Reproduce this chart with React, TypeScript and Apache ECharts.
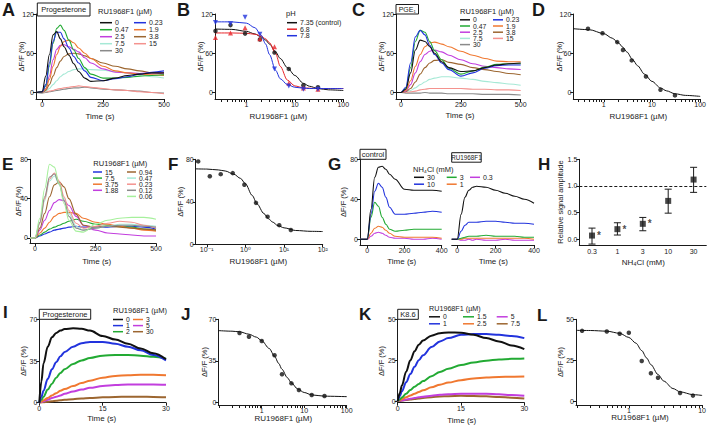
import React, { useEffect, useRef } from 'react';
import * as echarts from 'echarts';

const FONT = '"Liberation Sans", Arial, "DejaVu Sans", sans-serif';
const INK = '#1a1a1a';

// ===== A: progesterone traces =====
const aTime = [-25, 0, 15, 30, 45, 60, 75, 90, 110, 130, 150, 175, 200, 250, 300, 350, 400, 450, 500];
const aLabels = ['0', '0.23', '0.47', '1.9', '2.5', '3.8', '7.5', '15', '30'];
const aTraces = [
  [0, 1, 25, 58, 88, 93, 82, 70, 57, 44, 32, 22, 17, 18, 22, 26, 28, 30, 30],
  [0, 1, 12, 45, 78, 92, 92, 82, 68, 55, 45, 33, 23, 18, 21, 24, 28, 31, 33],
  [0, 1, 10, 40, 75, 98, 103, 95, 80, 65, 52, 38, 28, 22, 22, 23, 25, 26, 27],
  [0, 1, 5, 20, 40, 58, 70, 78, 80, 76, 68, 60, 52, 40, 33, 30, 28, 27, 26],
  [0, 1, 6, 25, 50, 66, 72, 73, 70, 66, 62, 53, 45, 36, 31, 30, 29, 30, 30],
  [0, 0, 3, 12, 25, 38, 48, 55, 59, 60, 59, 56, 52, 45, 40, 36, 33, 30, 28],
  [0, 0, 2, 6, 12, 18, 24, 28, 32, 35, 36, 36, 35, 34, 32, 30, 27, 24, 22],
  [0, 0, 1, 2, 3, 5, 6, 7, 8, 9, 10, 9, 8, 6, 4, 3, 1, 0, -2],
  [0, -1, 0, 1, 2, 3, 4, 5, 6, 7, 7, 8, 7, 5, 4, 3, 2, 0, -1],
];

// ===== B: pH dose-response =====
const bConc = [0.23, 0.47, 0.94, 1.9, 3.8, 7.5, 15, 30];
const bPh735 = [94, 103, 90, 81, 61, 36, 11, 8];
const bPh68 = [84, 91, 99, 82, 70, 14, 7, 5];
const bPh78 = [107, 105, 115, 89, 36, 10, 5, 5];
const bFitX = [0.225, 0.5, 1, 1.5, 2, 2.5, 3, 4, 5, 7, 10, 15, 20, 30, 50, 100];
const bFit735 = [97, 96.5, 93.5, 89.5, 85, 80, 74, 62, 52, 38, 26, 14, 9.5, 6, 4, 3];
const bFit68 = [91, 91, 90.5, 89, 86.5, 82, 76, 60, 40, 19, 10, 7, 6.5, 6, 6, 6];
const bFit78 = [108, 108, 106, 99, 88, 74, 58, 34, 21, 12, 8, 6.5, 6, 6, 6, 6];
const bLabels = ['7.35 (control)', '6.8', '7.8'];

// ===== C: PGE1 traces =====
const cTime = [-21, 0, 20, 40, 60, 80, 100, 120, 140, 170, 200, 250, 300, 350, 400, 450, 500];
const cTraces = [
  [0, 0, 5, 30, 65, 80, 78, 70, 60, 47, 38, 32, 33, 38, 42, 44, 45],
  [0, 0, 8, 45, 85, 95, 88, 72, 58, 45, 35, 25, 30, 37, 41, 42, 42],
  [0, 0, 6, 38, 78, 95, 92, 78, 64, 50, 37, 28, 33, 39, 43, 44, 44],
  [0, 0, 3, 18, 40, 58, 70, 76, 77, 74, 70, 63, 57, 52, 48, 47, 47],
  [0, 0, 2, 12, 30, 47, 58, 63, 65, 62, 57, 50, 44, 40, 38, 36, 35],
  [0, 0, 1, 6, 16, 28, 38, 45, 49, 50, 46, 43, 38, 35, 32, 29, 27],
  [0, 0, 1, 3, 7, 12, 16, 20, 22, 24, 24, 22, 20, 17, 15, 13, 11],
  [0, 0, 0, 1, 2, 4, 5, 6, 6, 6, 6, 6, 5, 5, 4, 4, 3],
  [0, 0, -1, -1, -1, -1, 0, -1, -1, -1, -2, -2, -2, -3, -3, -3, -4],
];

// ===== D: dose-response =====
const dConc = [0.23, 0.47, 0.94, 1.9, 2.5, 3.8, 7.5, 15, 30];
const dVal = [95, 97.5, 90.5, 77, 65, 49, 24.5, 4, -4.5];
const dFitX = [0.233, 0.5, 1, 1.5, 2, 2.5, 3, 4, 5, 7, 10, 15, 20, 30, 50, 100];
const dFit = [97.5, 96, 90, 83, 76, 69, 62, 50, 41, 28, 17, 7, 2.5, -2, -4.5, -6];

// ===== E: traces =====
const eTime = [-20, 0, 20, 40, 60, 80, 100, 120, 140, 170, 200, 250, 300, 350, 400, 450, 500];
const eLabels = ['15', '7.5', '3.75', '1.88', '0.94', '0.47', '0.23', '0.12', '0.06'];
const eTraces = [
  [0, 0, 2, 4, 6, 8, 9, 10, 11, 12, 11, 11, 11, 12, 12, 11, 9],
  [0, 0, 3, 6, 9, 11, 13, 15, 17, 19, 17, 14, 13, 12, 11, 9, 8],
  [0, 0, 5, 10, 16, 22, 25, 26, 26, 25, 20, 16, 14, 12, 10, 8, 7],
  [0, 0, 8, 18, 28, 36, 39, 38, 33, 22, 13, 8, 5, 4, 3, 2, 2],
  [0, 0, 10, 25, 42, 54, 57, 52, 40, 24, 13, 11, 12, 11, 10, 9, 8],
  [0, 0, 15, 38, 58, 63, 55, 40, 25, 12, 8, 10, 12, 14, 14, 13, 12],
  [0, 0, 15, 40, 60, 66, 58, 42, 28, 15, 10, 12, 15, 17, 16, 13, 10],
  [0, 0, 16, 42, 62, 65, 55, 38, 22, 10, 8, 10, 12, 13, 13, 12, 11],
  [0, 0, 20, 50, 75, 72, 55, 35, 18, 7, 6, 14, 18, 20, 21, 21, 19],
];

// ===== F: dose-response =====
const fConc = [0.06, 0.12, 0.23, 0.47, 0.94, 1.88, 3.75, 7.5, 15];
const fVal = [78, 64, 66, 67, 56, 39, 26, 18, 13.5];
const fFitX = [0.052, 0.1, 0.2, 0.3, 0.5, 0.75, 1, 1.5, 2, 3, 4, 5, 7, 10, 20, 50, 100];
const fFit = [71, 70.8, 70, 69, 66, 62, 57, 46, 38, 29, 24, 21, 17.5, 15.5, 13, 12.2, 12];

// ===== G: NH4Cl traces =====
const gLabels = ['30', '10', '3', '1', '0.3'];
const gCtrlTime = [-39, 0, 20, 40, 60, 80, 100, 120, 150, 200, 250, 300, 350, 400];
const gCtrl = [
  [0, 0, 30, 62, 72, 73, 70, 65, 60, 50, 49, 49, 49, 48],
  [0, 0, 25, 48, 56, 52, 42, 32, 25, 25, 26, 27, 28, 27],
  [0, 0, 22, 37, 33, 22, 15, 10, 8, 9, 10, 10, 10, 10],
  [0, 0, 6, 11, 13, 12, 9, 6, 3, 2, 2, 2, 2, 1],
  [0, 0, 3, 6, 7, 6, 4, 2, 1, 1, 0, 0, 1, 0],
];
const gRuTime = [-29, 0, 20, 40, 60, 80, 100, 150, 200, 250, 300, 350, 400];
const gRu = [
  [0, 0, 25, 42, 49, 52, 53, 52, 49, 46, 43, 40, 36],
  [0, 0, 8, 14, 17, 17, 17, 18, 18, 17, 16, 16, 15],
  [0, 0, 1, 2, 3, 3, 3, 4, 3, 3, 3, 2, 2],
  [0, 0, 0, 1, 1, 1, 1, 1, 1, 1, 1, 1, 0],
  [0, 0, -1, -1, 0, -1, 0, -1, -1, 0, -1, -1, -1],
];

// ===== H: relative amplitude =====
const hConc = ['0.3', '1', '3', '10', '30'];
const hMean = [0.07, 0.19, 0.29, 0.72, 1.12];
const hLow = [-0.09, 0.08, 0.16, 0.49, 0.88];
const hHigh = [0.21, 0.31, 0.41, 0.94, 1.35];
const hSig = ['*', '*', '*', '', ''];

// ===== I: progesterone fast traces =====
const iTime = [0, 0.5, 1, 2, 3, 4, 5, 6, 8, 10, 12, 15, 18, 21, 24, 27, 30];
const iLabels = ['0', '1', '2', '3', '5', '30'];
const iTraces = [
  [0, 18, 33, 47, 55, 58.5, 60.5, 61.8, 62.5, 62, 60.5, 56, 53, 49.5, 45.5, 41.5, 36.5],
  [0, 5, 10, 20, 28, 34, 39, 42.5, 47, 50, 51, 51, 49.5, 47, 44, 40, 35.5],
  [0, 2.5, 5, 11, 16, 21, 25, 28, 32.5, 35.5, 37.5, 39.5, 40, 40, 39.5, 38.5, 37],
  [0, 1, 2, 4, 6, 8, 10, 11.5, 14, 16.5, 18.5, 21, 22.5, 23, 23.5, 23.5, 23],
  [0, 0.5, 1.2, 2.5, 4, 5, 6, 7.5, 9.5, 11, 12.5, 14, 14.8, 15.2, 15.3, 15.2, 15],
  [0, 0.2, 0.4, 0.8, 1.2, 1.6, 2, 2.4, 3, 3.5, 4, 4.5, 4.8, 5, 5, 4.8, 4.5],
];

// ===== J: dose-response =====
const jConc = [0.3, 0.5, 1, 2, 3, 5, 7.5, 15, 30];
const jVal = [58.5, 55.4, 51.8, 39.8, 23.8, 16.2, 10.6, 6.4, 5.6];
const jFitX = [0.095, 0.2, 0.3, 0.5, 0.75, 1, 1.5, 2, 2.5, 3, 4, 5, 7, 10, 15, 30, 100];
const jFit = [60.5, 60, 59.5, 57.5, 55, 52, 45.5, 39, 33, 28, 21, 16.5, 11.5, 8.5, 6.5, 5.4, 5];

// ===== K: K8.6 traces =====
const kTime = [0, 0.5, 1, 2, 3, 4, 5, 6, 8, 10, 12, 15, 18, 21, 24, 27, 30];
const kLabels = ['0', '1', '1.5', '2.5', '5', '7.5'];
const kTraces = [
  [0, 5, 9.5, 18, 25, 30.5, 34.5, 37, 40, 41.5, 42, 41.8, 40.5, 38.5, 36.5, 34, 31.8],
  [0, 3, 6, 11.5, 16.5, 21, 25, 28, 33, 36.5, 38.5, 40.5, 41, 41, 40.5, 39.8, 38.5],
  [0, 1, 2.2, 4.5, 6.7, 8.7, 10.5, 12.2, 15.2, 17.8, 19.8, 22, 23.6, 24.7, 25.4, 25.8, 26],
  [0, 0.5, 1.1, 2.3, 3.4, 4.5, 5.6, 6.6, 8.4, 10, 11.3, 12.8, 13.8, 14.4, 14.7, 14.9, 15],
  [0, 0.2, 0.4, 0.9, 1.4, 1.9, 2.3, 2.7, 3.3, 3.8, 4.1, 4.4, 4.5, 4.4, 4.1, 3.7, 3.2],
  [0, 0.1, 0.3, 0.6, 1, 1.3, 1.6, 1.9, 2.4, 2.8, 3, 3.2, 3.1, 2.9, 2.5, 2.1, 1.6],
];

// ===== L: dose-response =====
const lConc = [0.23, 0.5, 0.75, 1, 1.5, 2, 2.5, 5, 7.5];
const lVal = [43, 42.6, 41.2, 41.8, 24.7, 17.3, 14.5, 5.3, 3.7];
const lFitX = [0.19, 0.3, 0.5, 0.75, 1, 1.25, 1.5, 1.75, 2, 2.5, 3, 4, 5, 7.5, 10];
const lFit = [43.3, 43.2, 42.8, 41.5, 39, 35.5, 31, 26.5, 22.5, 16.5, 12.5, 8, 6, 4.3, 3.8];

// ---------- colours ----------
const C = {
  black: '#111111', blue: '#2233dd', green: '#22aa33', orange: '#f07830', magenta: '#c23ede',
  brown: '#9c6630', cyan: '#a6e9d6', pink: '#f4928e', gray: '#8a8a8a', lime: '#a6f09c', red: '#e8262a',
};
const aColors = [C.black, C.blue, C.green, C.orange, C.magenta, C.brown, C.cyan, C.pink, C.gray];
const eColors = [C.blue, C.green, C.orange, C.magenta, C.brown, C.cyan, C.pink, C.gray, C.lime];
const gColors = [C.black, C.blue, C.green, C.orange, C.magenta];
const iColors = [C.black, C.blue, C.green, C.orange, C.magenta, C.brown];

const lg = (v: number) => Math.log10(v);

function logTicks(lo: number, hi: number, minor: boolean) {
  const out: number[] = [];
  for (let d = -3; d <= 3; d++) {
    for (let m = 1; m <= 9; m++) {
      if (!minor && m > 1) continue;
      const v = Math.log10(m) + d;
      if (v >= lo - 1e-9 && v <= hi + 1e-9) out.push(v);
    }
  }
  return out;
}
const decFmt = (v: number) => String(Math.round(Math.pow(10, Math.round(v))));
const supFmt = (v: number) => {
  const m: Record<string, string> = { '-1': '10⁻¹', '0': '10⁰', '1': '10¹', '2': '10²' };
  return m[String(Math.round(v))] || '';
};

type AxisSpec = {
  min: number; max: number; ticks: number[]; labels?: number[];
  fmt?: (v: number) => string; show?: boolean;
};

function valueAxis(gi: number, a: AxisSpec, pos: 'bottom' | 'left') {
  const show = a.show !== false;
  return {
    type: 'value', gridIndex: gi, position: pos, min: a.min, max: a.max,
    axisLine: { show, onZero: false, lineStyle: { color: INK, width: 1 } },
    axisTick: { show, length: 3, customValues: a.ticks, lineStyle: { color: INK, width: 1 } },
    axisLabel: {
      show, customValues: a.labels || a.ticks, formatter: a.fmt || ((v: number) => String(v)),
      fontSize: 7, fontFamily: FONT, color: INK, margin: 2,
    },
    splitLine: { show: false },
  };
}

function lineSeries(gi: number, xs: number[], ys: number[], color: string, width: number, smooth = 0.35) {
  return {
    type: 'line', xAxisIndex: gi, yAxisIndex: gi,
    data: xs.map((x, i) => [x, ys[i]]),
    symbol: 'none', showSymbol: false, smooth, smoothMonotone: 'x',
    lineStyle: { color, width }, silent: true, z: 2,
  };
}

function scatterSeries(gi: number, xs: number[], ys: number[], color: string, symbol = 'circle', size = 4.5, rotate = 0) {
  return {
    type: 'scatter', xAxisIndex: gi, yAxisIndex: gi,
    data: xs.map((x, i) => [x, ys[i]]),
    symbol, symbolSize: size, symbolRotate: rotate, itemStyle: { color }, silent: true, z: 4,
  };
}

function txt(x: number, y: number, text: string, size = 7.5, opts: any = {}) {
  return {
    type: 'text', x, y, z: 100, rotation: opts.rotation || 0,
    style: {
      text, fill: INK, fontSize: size, fontFamily: FONT, fontWeight: opts.bold ? 'bold' : 'normal',
      align: opts.align || 'left', verticalAlign: 'middle',
    },
  };
}

function box(x: number, y: number, w: number, h: number, text: string, size = 7.5) {
  return [
    { type: 'rect', z: 99, shape: { x, y, width: w, height: h }, style: { fill: '#fff', stroke: INK, lineWidth: 1 } },
    txt(x + w / 2, y + h / 2, text, size, { align: 'center' }),
  ];
}

function legend(labels: string[], colors: string[], place: (i: number) => [number, number], len: number, lw: number, size = 7) {
  const out: any[] = [];
  labels.forEach((lab, i) => {
    const [x, y] = place(i);
    out.push({ type: 'line', z: 100, shape: { x1: x, y1: y, x2: x + len, y2: y }, style: { stroke: colors[i], lineWidth: lw } });
    out.push(txt(x + len + 3, y, lab, size));
  });
  return out;
}

function buildOption() {
  const grids: any[] = [];
  const xAxes: any[] = [];
  const yAxes: any[] = [];
  const series: any[] = [];
  const g: any[] = [];

  const addGrid = (left: number, top: number, width: number, height: number) => {
    grids.push({ left, top, width, height, containLabel: false });
    return grids.length - 1;
  };

  // ---- A ----
  const gA = addGrid(36, 14, 128, 85);
  xAxes.push(valueAxis(gA, { min: -25, max: 500, ticks: [0, 250, 500] }, 'bottom'));
  yAxes.push(valueAxis(gA, { min: -10, max: 120, ticks: [0, 60, 120] }, 'left'));
  for (let i = aTraces.length - 1; i >= 0; i--) series.push(lineSeries(gA, aTime, aTraces[i], aColors[i], 1.1));

  // ---- B ----
  const bMin = lg(0.225);
  const gB = addGrid(215, 14, 128.3, 85);
  xAxes.push(valueAxis(gB, { min: bMin, max: 2, ticks: logTicks(bMin, 2, true), labels: [0, 1, 2], fmt: decFmt }, 'bottom'));
  yAxes.push(valueAxis(gB, { min: -10, max: 120, ticks: [0, 60, 120] }, 'left'));
  const bx = bConc.map(lg);
  const bfx = bFitX.map(lg);
  series.push(lineSeries(gB, bfx, bFit735, C.black, 1, 0.3));
  series.push(lineSeries(gB, bfx, bFit68, C.red, 1, 0.3));
  series.push(lineSeries(gB, bfx, bFit78, C.blue, 1, 0.3));
  series.push(scatterSeries(gB, bx, bPh735, C.black, 'circle', 4.5));
  series.push(scatterSeries(gB, bx, bPh68, C.red, 'triangle', 5));
  series.push(scatterSeries(gB, bx, bPh78, C.blue, 'triangle', 5, 180));

  // ---- C ----
  const gC = addGrid(396, 14, 124.7, 85);
  xAxes.push(valueAxis(gC, { min: -21, max: 500, ticks: [0, 250, 500] }, 'bottom'));
  yAxes.push(valueAxis(gC, { min: -10, max: 120, ticks: [0, 60, 120] }, 'left'));
  for (let i = cTraces.length - 1; i >= 0; i--) series.push(lineSeries(gC, cTime, cTraces[i], aColors[i], 1.1));

  // ---- D ----
  const dMin = lg(0.233);
  const gD = addGrid(573.3, 14, 127.7, 85);
  xAxes.push(valueAxis(gD, { min: dMin, max: 2, ticks: logTicks(dMin, 2, true), labels: [0, 1, 2], fmt: decFmt }, 'bottom'));
  yAxes.push(valueAxis(gD, { min: -10, max: 120, ticks: [0, 60, 120] }, 'left'));
  series.push(lineSeries(gD, dFitX.map(lg), dFit, C.black, 1, 0.3));
  series.push(scatterSeries(gD, dConc.map(lg), dVal, C.black));

  // ---- E ----
  const gE = addGrid(30, 159.3, 126, 84);
  xAxes.push(valueAxis(gE, { min: -20.7, max: 500, ticks: [0, 250, 500] }, 'bottom'));
  yAxes.push(valueAxis(gE, { min: -5.4, max: 80, ticks: [0, 40, 80] }, 'left'));
  for (let i = 0; i < eTraces.length; i++) series.push(lineSeries(gE, eTime, eTraces[i], eColors[i], 1.1));

  // ---- F ----
  const fMin = -1.286;
  const gF = addGrid(195.7, 159.3, 127, 85);
  xAxes.push(valueAxis(gF, { min: fMin, max: 2, ticks: logTicks(fMin, 2, false), fmt: supFmt }, 'bottom'));
  yAxes.push(valueAxis(gF, { min: 0, max: 80, ticks: [0, 40, 80] }, 'left'));
  series.push(lineSeries(gF, fFitX.map(lg), fFit, C.black, 1, 0.3));
  series.push(scatterSeries(gF, fConc.map(lg), fVal, C.black));

  // ---- G control ----
  const gG1 = addGrid(360, 159.3, 81.7, 85.7);
  xAxes.push(valueAxis(gG1, { min: -39, max: 400, ticks: [0, 200, 400] }, 'bottom'));
  yAxes.push(valueAxis(gG1, { min: -5.7, max: 80, ticks: [0, 40, 80] }, 'left'));
  for (let i = gCtrl.length - 1; i >= 0; i--) series.push(lineSeries(gG1, gCtrlTime, gCtrl[i], gColors[i], 1.1));

  // ---- G RU1968F1 ----
  const gG2 = addGrid(451.7, 159.3, 82.3, 85.7);
  xAxes.push(valueAxis(gG2, { min: -29, max: 400, ticks: [0, 200, 400] }, 'bottom'));
  yAxes.push(valueAxis(gG2, { min: -5.7, max: 80, ticks: [0, 40, 80], show: false }, 'left'));
  for (let i = gRu.length - 1; i >= 0; i--) series.push(lineSeries(gG2, gRuTime, gRu[i], gColors[i], 1.1));

  // ---- H ----
  const gH = addGrid(579.3, 159.3, 127, 85.7);
  xAxes.push({
    type: 'category', gridIndex: gH, position: 'bottom', data: hConc, boundaryGap: true,
    axisLine: { onZero: false, lineStyle: { color: INK, width: 1 } },
    axisTick: { length: 3, alignWithLabel: true, lineStyle: { color: INK } },
    axisLabel: { fontSize: 7, fontFamily: FONT, color: INK, margin: 3 },
    splitLine: { show: false },
  });
  yAxes.push(valueAxis(gH, { min: -0.107, max: 1.5, ticks: [0, 0.5, 1, 1.5], fmt: (v: number) => v.toFixed(1) }, 'left'));
  series.push({
    type: 'custom', xAxisIndex: gH, yAxisIndex: gH, silent: true, z: 3,
    data: hConc.map((c, i) => [i, hLow[i], hHigh[i]]),
    encode: { x: 0, y: [1, 2] },
    renderItem: (params: any, api: any) => {
      const lo = api.coord([api.value(0), api.value(1)]);
      const hi = api.coord([api.value(0), api.value(2)]);
      const x = lo[0];
      const w = 3.5;
      const st = { stroke: INK, lineWidth: 1 };
      return {
        type: 'group',
        children: [
          { type: 'line', shape: { x1: x, y1: lo[1], x2: x, y2: hi[1] }, style: st },
          { type: 'line', shape: { x1: x - w, y1: hi[1], x2: x + w, y2: hi[1] }, style: st },
          { type: 'line', shape: { x1: x - w, y1: lo[1], x2: x + w, y2: lo[1] }, style: st },
        ],
      };
    },
  });
  series.push({
    type: 'scatter', xAxisIndex: gH, yAxisIndex: gH, silent: true, z: 4,
    data: hMean.map((v, i) => [i, v]),
    symbol: 'rect', symbolSize: 6, itemStyle: { color: INK },
    label: {
      show: true, position: 'right', distance: 2, formatter: (p: any) => hSig[p.dataIndex],
      fontSize: 10, fontWeight: 'bold', fontFamily: FONT, color: INK,
    },
    markLine: {
      silent: true, symbol: 'none', label: { show: false },
      lineStyle: { color: INK, type: [3, 2], width: 1 },
      data: [{ yAxis: 1 }],
    },
  });

  // ---- I ----
  const gI = addGrid(39.3, 319.3, 126.7, 83.4);
  xAxes.push(valueAxis(gI, { min: 0, max: 30, ticks: [0, 15, 30] }, 'bottom'));
  yAxes.push(valueAxis(gI, { min: 0, max: 70, ticks: [0, 35, 70] }, 'left'));
  for (let i = iTraces.length - 1; i >= 0; i--) series.push(lineSeries(gI, iTime, iTraces[i], iColors[i], 2));

  // ---- J ----
  const jMin = lg(0.095);
  const gJ = addGrid(218.3, 319.3, 128.4, 85.7);
  xAxes.push(valueAxis(gJ, { min: jMin, max: 2, ticks: logTicks(jMin, 2, true), labels: [0, 1, 2], fmt: decFmt }, 'bottom'));
  yAxes.push(valueAxis(gJ, { min: -2, max: 70, ticks: [0, 35, 70] }, 'left'));
  series.push(lineSeries(gJ, jFitX.map(lg), jFit, C.black, 1, 0.3));
  series.push(scatterSeries(gJ, jConc.map(lg), jVal, C.black));

  // ---- K ----
  const gK = addGrid(397.7, 319.3, 126.6, 83.4);
  xAxes.push(valueAxis(gK, { min: 0, max: 30, ticks: [0, 15, 30] }, 'bottom'));
  yAxes.push(valueAxis(gK, { min: -1, max: 50, ticks: [0, 25, 50] }, 'left'));
  for (let i = kTraces.length - 1; i >= 0; i--) series.push(lineSeries(gK, kTime, kTraces[i], iColors[i], 2));

  // ---- L ----
  const lMin = lg(0.19);
  const gL = addGrid(576, 319.3, 126.7, 85.7);
  xAxes.push(valueAxis(gL, { min: lMin, max: 1, ticks: logTicks(lMin, 1, true), labels: [0, 1], fmt: decFmt }, 'bottom'));
  yAxes.push(valueAxis(gL, { min: -2, max: 50, ticks: [0, 25, 50] }, 'left'));
  series.push(lineSeries(gL, lFitX.map(lg), lFit, C.black, 1, 0.3));
  series.push(scatterSeries(gL, lConc.map(lg), lVal, C.black));

  // ---------- panel letters ----------
  const letters: [string, number, number, number][] = [
    ['A', 2, 10, 18], ['B', 177, 10, 18], ['C', 352, 10, 18], ['D', 532, 10, 18],
    ['E', 2, 164.5, 17], ['F', 168, 164.5, 17], ['G', 328, 164.5, 17], ['H', 538, 164.5, 17],
    ['I', 3, 312, 17], ['J', 181, 314, 17], ['K', 359, 314, 17], ['L', 537, 315, 17],
  ];
  letters.forEach(([t, x, y, s]) => g.push(txt(x, y, t, s, { bold: true })));

  // ---------- axis titles ----------
  const dff = 'ΔF/F (%)';
  const ru = 'RU1968F1 (µM)';
  const yt: [number, number, string][] = [
    [21, 56.5, dff], [200, 56.5, dff], [381, 56.5, dff], [559, 56.5, dff],
    [18.3, 201.3, dff], [180, 201.8, dff], [343.7, 202, dff], [560, 202, 'Relative signal amplitude'],
    [23.3, 361, dff], [204.2, 362, dff], [381.7, 361, dff], [560.5, 362, dff],
  ];
  yt.forEach(([x, y, t]) => g.push(txt(x, y, t, 7.5, { align: 'center', rotation: Math.PI / 2 })));
  const xt: [number, number, string][] = [
    [100, 116.7, 'Time (s)'], [278.3, 116, ru], [460, 115.7, 'Time (s)'], [638.3, 116.7, ru],
    [96.7, 261.7, 'Time (s)'], [258.3, 261.7, ru], [401.7, 261.7, 'Time (s)'], [493.3, 261.7, 'Time (s)'],
    [643.3, 262.7, 'NH₄Cl (mM)'],
    [101.7, 418.3, 'Time (s)'], [283.3, 418.3, ru], [461.7, 420.7, 'Time (s)'], [640, 417.7, ru],
  ];
  xt.forEach(([x, y, t]) => g.push(txt(x, y, t, 8, { align: 'center' })));

  // ---------- boxed labels ----------
  g.push(...box(37.3, 3, 52.7, 13, 'Progesterone'));
  g.push(...box(396, 4.5, 22.5, 9.5, 'PGE₁', 7));
  g.push(...box(360, 149.3, 26, 10, 'control'));
  g.push(...box(451.7, 152.7, 29.5, 9.5, 'RU1968F1', 6.3));
  g.push(...box(39.3, 309.3, 51.4, 10, 'Progesterone'));
  g.push(...box(397.7, 309.3, 20.6, 10, 'K8.6'));

  // ---------- legends ----------
  g.push(txt(98, 11, ru));
  g.push(...legend(aLabels, aColors, (i) => [i % 2 === 0 ? 100 : 134, 22.7 + Math.floor(i / 2) * 7], 12, 1.5));

  g.push(txt(286, 13, 'pH'));
  g.push(...legend(bLabels, [C.black, C.red, C.blue], (i) => [287, 22.7 + i * 6.5], 10, 1.5));

  g.push(txt(460, 11, ru));
  g.push(...legend(aLabels, aColors, (i) => [i % 2 === 0 ? 460 : 493, 19.8 + Math.floor(i / 2) * 6.2], 10, 1.5, 6.8));

  g.push(txt(93.3, 163.3, ru));
  g.push(...legend(eLabels, eColors, (i) => [i < 4 ? 93 : 127, 172 + (i < 4 ? i : i - 4) * 6.1], 9, 1.5, 6.8));

  g.push(txt(413, 169.3, 'NH₄Cl (mM)'));
  g.push(...legend(gLabels, gColors, (i) => [[414, 446.7, 470][Math.floor(i / 2)], 177.3 + (i % 2) * 6.9], 10, 1.5));

  g.push(txt(113, 310, ru));
  g.push(...legend(iLabels, iColors, (i) => [i < 3 ? 113 : 133, 319.5 + (i % 3) * 6.1], 10, 1.5, 6.8));

  g.push(txt(429, 308.6, ru, 7.2));
  g.push(...legend(kLabels, iColors, (i) => [[429, 463, 496.7][Math.floor(i / 2)], 316.8 + (i % 2) * 7], 11, 1.5, 6.8));

  return {
    animation: false,
    backgroundColor: '#ffffff',
    textStyle: { fontFamily: FONT },
    grid: grids,
    xAxis: xAxes,
    yAxis: yAxes,
    series,
    graphic: { elements: g },
  };
}

export default function App() {
  const ref = useRef<HTMLDivElement>(null);
  useEffect(() => {
    if (!ref.current) return;
    const chart = echarts.init(ref.current, null, { renderer: 'svg', width: 709, height: 428 });
    chart.setOption(buildOption() as any);
    return () => chart.dispose();
  }, []);
  return (
    <div
      ref={ref}
      style={{ position: 'fixed', left: 0, top: 0, width: 709, height: 428, background: '#fff' }}
    />
  );
}
